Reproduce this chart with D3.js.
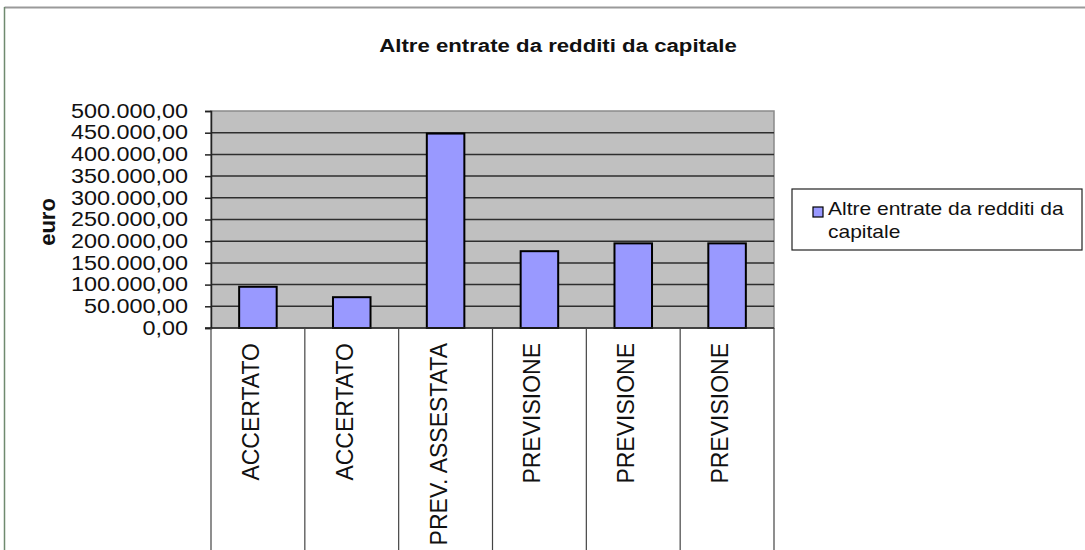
<!DOCTYPE html>
<html>
<head>
<meta charset="utf-8">
<script src="https://cdn.jsdelivr.net/npm/d3@7"></script>
<style>
  html, body { margin: 0; padding: 0; background: #fff; }
  svg { display: block; font-family: "Liberation Sans", Arial, sans-serif; }
</style>
</head>
<body>
<svg id="chart" width="1085" height="550"></svg>
<script>
// Categories and values (euro)
const categories = ["ACCERTATO", "ACCERTATO", "PREV. ASSESTATA", "PREVISIONE", "PREVISIONE", "PREVISIONE"];
const values = [95000, 71000, 448000, 177000, 195000, 195000];
const yTicks = [0, 50000, 100000, 150000, 200000, 250000, 300000, 350000, 400000, 450000, 500000];
const seriesName = "Altre entrate da redditi da capitale";
const chartTitle = "Altre entrate da redditi da capitale";
const yTitle = "euro";

// Horizontal text stretch used for upright labels
const SX = 1.2;

const svg = d3.select("#chart");
const plot = { left: 211, right: 774, top: 111, bottom: 328 };

// Outer chart frame (top and left edges)
svg.append("line").attr("x1", 4.5).attr("x2", 1085).attr("y1", 7.5).attr("y2", 7.5)
  .attr("stroke", "#9a9a9a").attr("stroke-width", 2);
svg.append("line").attr("x1", 4.5).attr("x2", 4.5).attr("y1", 7).attr("y2", 550)
  .attr("stroke", "#6f8a6f").attr("stroke-width", 1.5);

const idx = categories.map((d, i) => i);
const x = d3.scaleBand().domain(idx).range([plot.left, plot.right]).paddingInner(0.6).paddingOuter(0.3);
const xBand = d3.scaleBand().domain(idx).range([plot.left, plot.right]);
const y = d3.scaleLinear().domain([0, 500000]).range([plot.bottom, plot.top]);

// Plot background
svg.append("rect").attr("x", plot.left).attr("y", plot.top)
  .attr("width", plot.right - plot.left).attr("height", plot.bottom - plot.top)
  .attr("fill", "#c0c0c0").attr("stroke", "#8a8a8a").attr("stroke-width", 1.5);

// Horizontal gridlines
svg.append("g").selectAll("line").data(yTicks.filter(t => t > 0 && t < 500000)).join("line")
  .attr("x1", plot.left).attr("x2", plot.right)
  .attr("y1", d => y(d)).attr("y2", d => y(d))
  .attr("stroke", "#2e2e2e").attr("stroke-width", 1.5);

// Y axis with tick labels in Italian number format
const itFmt = d3.formatLocale({ decimal: ",", thousands: ".", grouping: [3], currency: ["€", ""] }).format(",.2f");
const yAxis = d3.axisLeft(y).tickValues(yTicks).tickSize(6).tickPadding(17).tickFormat(itFmt);
const gy = svg.append("g").attr("transform", `translate(${plot.left},0)`).call(yAxis);
gy.select(".domain").attr("stroke", "#222").attr("stroke-width", 1.5);
gy.selectAll(".tick line").attr("stroke", "#222").attr("stroke-width", 1.5);
gy.selectAll(".tick text").attr("font-size", 19.5).attr("fill", "#111")
  .attr("font-family", "'Liberation Sans', Arial, sans-serif")
  .attr("x", -23 / SX).attr("transform", `scale(${SX},1)`);

// Y axis title
svg.append("text").attr("transform", "translate(55,222) rotate(-90)")
  .attr("text-anchor", "middle").attr("font-size", 22).attr("font-weight", "bold")
  .attr("fill", "#111").text(yTitle);

// Bars
svg.append("g").selectAll("rect").data(values).join("rect")
  .attr("x", (d, i) => x(i)).attr("y", d => y(d))
  .attr("width", x.bandwidth()).attr("height", d => y(0) - y(d))
  .attr("fill", "#9999ff").attr("stroke", "#000").attr("stroke-width", 2);

// Baseline
svg.append("line").attr("x1", plot.left - 6).attr("x2", plot.right)
  .attr("y1", y(0)).attr("y2", y(0)).attr("stroke", "#222").attr("stroke-width", 1.5);

// Category separators below the axis
const bounds = idx.map(i => xBand(i)).concat([plot.right]);
svg.append("g").selectAll("line").data(bounds).join("line")
  .attr("x1", d => d).attr("x2", d => d).attr("y1", y(0)).attr("y2", 550)
  .attr("stroke", "#444").attr("stroke-width", 1.2);

// Rotated category labels
svg.append("g").selectAll("text").data(categories).join("text")
  .attr("transform", (d, i) => `translate(${xBand(i) + xBand.bandwidth() / 2 + 1},343) rotate(-90)`)
  .attr("text-anchor", "end").attr("font-size", 23).attr("fill", "#111")
  .text(d => d);

// Title
svg.append("text").attr("transform", `translate(558,52) scale(${SX},1)`).attr("text-anchor", "middle")
  .attr("font-size", 18.5).attr("font-weight", "bold").attr("fill", "#111").text(chartTitle);

// Legend
const lg = svg.append("g");
lg.append("rect").attr("x", 792).attr("y", 189).attr("width", 290).attr("height", 61)
  .attr("fill", "#fff").attr("stroke", "#222").attr("stroke-width", 1.2);
lg.append("rect").attr("x", 813).attr("y", 207).attr("width", 10).attr("height", 10)
  .attr("fill", "#9999ff").attr("stroke", "#000").attr("stroke-width", 1.2);
const words = seriesName.split(" ");
lg.append("text").attr("transform", `translate(828,215) scale(${SX},1)`)
  .attr("font-size", 17.5).attr("fill", "#111")
  .text(words.slice(0, 5).join(" "));
lg.append("text").attr("transform", `translate(828,238) scale(${SX},1)`)
  .attr("font-size", 17.5).attr("fill", "#111")
  .text(words.slice(5).join(" "));
</script>
</body>
</html>
